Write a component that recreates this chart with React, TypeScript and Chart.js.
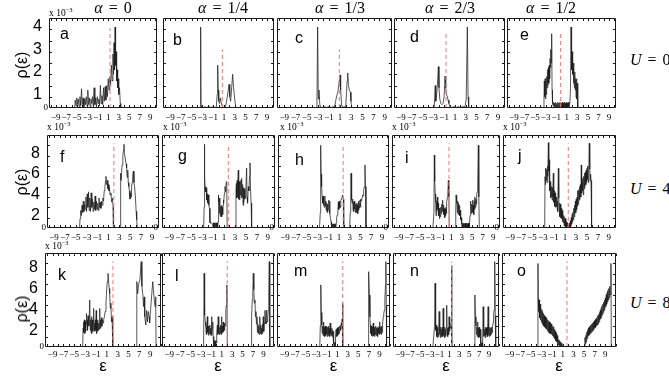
import React, { useEffect, useRef } from 'react';
import { Chart, registerables } from 'chart.js';

Chart.register(...registerables);

// ---------------- data ----------------
const ALPHA_LABELS = ['0', '1/4', '1/3', '2/3', '1/2'];
const U_LABELS = ['0', '4', '8'];
const PANEL_LETTERS = ['a', 'b', 'c', 'd', 'e', 'f', 'g', 'h', 'i', 'j', 'k', 'l', 'm', 'n', 'o'];
const X_TICKS = [-9, -7, -5, -3, -1, 1, 3, 5, 7, 9];
const X_TICK_LABELS = ['\u22129', '\u22127', '\u22125', '\u22123', '\u22121', '1', '3', '5', '7', '9'];
const Y_TICKS_U0 = [1, 2, 3, 4];
const Y_TICKS_U48 = [2, 4, 6, 8];
const Y_MAX = [4, 9, 9];
const X_RANGES = [[-10.3, 10.3], [-10.3, 10.3], [-10.4, 11.0]];
const FERMI_LEVEL = [1.34, 0.71, 0.87, -0.65, -0.16, 2.0, 1.79, 1.8, 0.57, 1.6, 2.14, 2.06, 2.05, 1.44, 1.8];
const FERMI_TOP = [3.55, 2.6, 2.6, 3.4, 3.4, 8.2, 8.1, 8.0, 8.2, 8.2, 8.2, 8.2, 8.2, 8.2, 8.2];

const RHO_A = [[-5.4,0],[-5.3,0.35],[-5.15,0.1],[-5.0,0.45],[-4.85,0.15],[-4.7,0.4],[-4.55,0.05],[-4.4,0.5],[-4.25,0.1],[-4.1,0.85],[-3.95,0.15],[-3.8,0.45],[-3.65,0.05],[-3.5,0.4],[-3.35,0.15],[-3.2,0.5],[-3.05,0.1],[-2.9,0.8],[-2.75,0.15],[-2.6,0.45],[-2.45,0.05],[-2.3,0.4],[-2.15,0.2],[-2.0,0.5],[-1.85,0.1],[-1.7,0.9],[-1.55,0.15],[-1.4,0.45],[-1.25,0.05],[-1.1,0.5],[-0.95,0.2],[-0.8,0.4],[-0.65,0.1],[-0.5,1.0],[-0.35,0.2],[-0.2,0.55],[-0.05,0.15],[0.1,0.9],[0.25,0.3],[0.4,0.95],[0.55,0.35],[0.7,1.0],[0.85,0.5],[1.0,1.3],[1.15,0.8],[1.3,1.4],[1.45,1.0],[1.6,1.9],[1.75,1.2],[1.9,2.4],[2.0,1.5],[2.1,2.9],[2.2,1.7],[2.3,3.6],[2.4,1.9],[2.5,2.5],[2.6,1.2],[2.7,1.7],[2.8,0.9],[2.9,1.3],[3.0,0.6],[3.15,0.9],[3.3,0.2],[3.4,0]];
const RHO_B = [[-3.5,0],[-3.38,0.05],[-3.31,3.6],[-3.24,0.1],[-3.1,0.05],[-2.8,0.02],[-2.5,0.06],[-2.2,0.02],[-1.8,0.06],[-1.4,0.02],[-1.0,0.06],[-0.7,0.02],[-0.4,0.05],[-0.25,0.6],[-0.15,1.9],[-0.05,0.8],[0.05,0.3],[0.2,0.2],[0.35,0.45],[0.5,0.25],[0.65,0.1],[0.9,0.03],[1.3,0.05],[1.5,0.3],[1.75,0.7],[1.95,1.05],[2.1,0.5],[2.25,0.3],[2.45,0.9],[2.63,1.5],[2.8,0.9],[3.0,0.4],[3.2,0.05],[3.3,0]];
const RHO_C = [[-3.4,0],[-3.15,0.05],[-3.02,3.6],[-2.9,0.4],[-2.78,0.8],[-2.65,0.2],[-2.55,0.05],[-2.2,0.02],[-1.8,0.06],[-1.4,0.02],[-1.0,0.06],[-0.6,0.02],[-0.2,0.06],[0.0,0.05],[0.2,0.3],[0.4,0.55],[0.6,0.7],[0.75,1.0],[0.85,1.2],[0.99,1.47],[1.1,0.8],[1.28,0.1],[1.6,0.05],[2.0,0.05],[2.15,0.6],[2.25,1.2],[2.36,1.56],[2.5,1.0],[2.66,0.8],[2.85,0.7],[2.95,0.3],[3.08,0]];
const RHO_D = [[-2.9,0],[-2.81,0.1],[-2.65,1.0],[-2.55,0.3],[-2.38,0.6],[-2.2,1.2],[-2.07,1.84],[-1.95,0.9],[-1.8,0.4],[-1.6,0.2],[-1.4,0.15],[-1.2,0.2],[-1.0,0.5],[-0.83,1.42],[-0.7,0.9],[-0.55,0.6],[-0.4,0.5],[-0.25,0.35],[-0.1,0.2],[0.05,0.06],[0.4,0.02],[0.8,0.06],[1.2,0.02],[1.6,0.06],[2.0,0.02],[2.4,0.06],[2.88,0.05],[3.1,0.4],[3.31,3.6],[3.45,0.5],[3.56,0]];
const RHO_E = [[-3.4,0],[-3.31,0.4],[-3.25,1.2],[-3.18,0.5],[-3.1,1.3],[-3.02,0.4],[-2.95,1.25],[-2.87,0.6],[-2.8,1.4],[-2.72,0.9],[-2.64,1.7],[-2.56,1.0],[-2.48,1.8],[-2.4,1.1],[-2.32,1.9],[-2.24,1.3],[-2.16,2.2],[-2.08,1.8],[-2.0,2.6],[-1.93,2.0],[-1.86,3.3],[-1.78,0.8],[-1.7,0.2],[-1.6,0.1],[-1.5,0.25],[-1.4,0.02],[-1.3,0.22],[-1.2,0.03],[-1.1,0.25],[-1.0,0.02],[-0.9,0.2],[-0.8,0.03],[-0.7,0.25],[-0.6,0.02],[-0.5,0.22],[-0.4,0.03],[-0.3,0.25],[-0.2,0.02],[-0.1,0.2],[0.0,0.03],[0.1,0.25],[0.2,0.02],[0.3,0.22],[0.4,0.03],[0.5,0.25],[0.6,0.02],[0.7,0.2],[0.8,0.03],[0.9,0.25],[1.0,0.02],[1.1,0.22],[1.2,0.03],[1.3,0.25],[1.4,0.05],[1.5,0.2],[1.6,0.3],[1.7,0.9],[1.8,3.6],[1.87,2.4],[1.95,1.7],[2.03,2.5],[2.11,1.5],[2.19,2.0],[2.27,1.1],[2.35,1.8],[2.43,0.9],[2.51,1.6],[2.59,0.8],[2.67,1.3],[2.75,0.5],[2.83,1.3],[2.91,0.4],[2.99,1.1],[3.05,0.3],[3.1,0]];
const RHO_F = [[-4.3,0],[-4.23,0.9],[-4.1,1.7],[-3.98,1.2],[-3.86,2.2],[-3.74,1.5],[-3.62,2.6],[-3.5,1.6],[-3.38,2.3],[-3.26,1.8],[-3.14,3.0],[-3.02,1.6],[-2.9,3.3],[-2.78,2.0],[-2.66,3.5],[-2.54,1.7],[-2.42,2.9],[-2.3,1.6],[-2.18,3.4],[-2.06,2.0],[-1.94,2.8],[-1.82,1.6],[-1.7,2.5],[-1.58,1.8],[-1.46,3.1],[-1.34,1.7],[-1.22,2.6],[-1.1,1.8],[-0.98,2.4],[-0.86,1.7],[-0.74,2.9],[-0.62,2.0],[-0.5,2.5],[-0.38,1.9],[-0.26,2.6],[-0.14,2.2],[-0.02,2.9],[0.1,2.6],[0.22,3.6],[0.34,3.9],[0.46,4.6],[0.55,5.0],[0.65,4.2],[0.78,4.6],[0.9,3.8],[1.0,4.2],[1.1,3.6],[1.2,3.9],[1.3,3.2],[1.45,3.4],[1.6,2.5],[1.75,2.9],[1.85,2.0],[1.92,0],[3.2,0],[3.25,5.3],[3.35,4.6],[3.5,6.1],[3.65,7.0],[3.78,7.6],[3.86,8.1],[3.95,7.2],[4.1,6.7],[4.25,6.2],[4.35,5.8],[4.45,4.9],[4.55,5.6],[4.65,4.4],[4.75,4.0],[4.85,3.6],[4.96,2.8],[5.05,3.4],[5.15,3.0],[5.25,3.9],[5.35,4.4],[5.45,5.0],[5.58,5.5],[5.7,4.4],[5.8,4.0],[5.95,3.1],[6.1,1.6],[6.2,0.8],[6.31,0]];
const RHO_G = [[-2.7,0],[-2.62,2.0],[-2.58,8.1],[-2.5,5.0],[-2.46,4.0],[-2.35,3.5],[-2.25,3.9],[-2.15,2.7],[-2.05,3.3],[-1.95,2.4],[-1.85,3.2],[-1.75,2.2],[-1.65,1.9],[-1.55,0.5],[-1.4,0.45],[-1.25,0.5],[-1.1,0.4],[-1.0,0.1],[-0.93,0.5],[-0.86,0.05],[-0.79,0.5],[-0.72,0.05],[-0.65,0.5],[-0.58,0.05],[-0.51,0.5],[-0.44,0.05],[-0.37,0.5],[-0.3,0.05],[-0.23,0.5],[-0.16,0.1],[-0.08,0.6],[-0.03,3.2],[0.05,2.5],[0.12,2.9],[0.2,1.4],[0.27,2.2],[0.34,1.1],[0.41,2.1],[0.48,1.2],[0.55,2.2],[0.62,1.1],[0.69,2.0],[0.76,1.3],[0.83,2.2],[0.88,2.7],[0.98,2.4],[1.08,3.4],[1.18,4.0],[1.3,3.5],[1.4,4.4],[1.5,4.5],[1.58,0],[3.15,0],[3.19,3.7],[3.26,4.3],[3.33,2.9],[3.4,4.6],[3.47,3.0],[3.54,4.2],[3.61,5.6],[3.68,2.8],[3.75,4.5],[3.82,2.7],[3.9,4.4],[3.98,3.2],[4.06,4.6],[4.14,2.9],[4.22,4.8],[4.3,3.0],[4.4,4.2],[4.48,2.2],[4.55,3.9],[4.62,2.4],[4.7,3.8],[4.8,2.8],[4.9,3.0],[5.0,4.0],[5.13,5.8],[5.2,3.0],[5.3,2.4],[5.43,4.0],[5.55,3.6],[5.65,5.0],[5.74,6.3],[5.85,3.5],[5.95,2.4],[6.04,0]];
const RHO_H = [[-2.6,0],[-2.45,1.5],[-2.38,8.0],[-2.3,5.2],[-2.2,4.0],[-2.1,3.0],[-2.0,2.4],[-1.93,3.1],[-1.86,2.2],[-1.79,2.9],[-1.72,2.0],[-1.65,2.8],[-1.58,3.1],[-1.5,2.1],[-1.42,2.6],[-1.35,1.7],[-1.27,2.4],[-1.2,1.5],[-1.12,2.3],[-1.04,1.6],[-0.96,1.9],[-0.88,2.7],[-0.8,1.8],[-0.72,2.6],[-0.65,1.4],[-0.56,1.0],[-0.46,0.6],[-0.4,0.1],[-0.33,0.4],[-0.26,0.05],[-0.19,0.4],[-0.12,0.05],[-0.05,0.4],[0.02,0.05],[0.09,0.4],[0.16,0.05],[0.23,0.4],[0.3,0.05],[0.37,0.4],[0.44,0.1],[0.52,0.5],[0.59,1.0],[0.7,1.25],[0.8,1.6],[0.9,2.5],[0.97,1.8],[1.04,2.6],[1.11,1.9],[1.18,2.4],[1.25,2.0],[1.35,2.7],[1.45,2.8],[1.55,2.9],[1.7,3.2],[1.82,2.8],[1.9,0],[3.0,0],[3.1,1.5],[3.2,3.0],[3.25,5.3],[3.33,3.5],[3.4,2.7],[3.48,2.4],[3.56,2.8],[3.63,1.7],[3.7,2.5],[3.77,1.6],[3.84,2.6],[3.91,1.8],[3.99,2.5],[4.06,1.5],[4.13,2.3],[4.2,1.6],[4.28,2.4],[4.35,1.5],[4.42,2.2],[4.5,1.4],[4.57,2.4],[4.64,1.7],[4.72,2.6],[4.8,1.9],[4.92,2.7],[5.0,2.0],[5.1,2.8],[5.2,2.6],[5.3,3.0],[5.41,3.2],[5.5,3.1],[5.6,3.7],[5.72,4.0],[5.84,6.1],[5.94,4.0],[6.03,0]];
const RHO_I = [[-2.5,0],[-2.3,1.5],[-2.23,7.06],[-2.15,4.5],[-2.05,3.3],[-1.97,2.5],[-1.9,1.2],[-1.82,2.6],[-1.74,1.6],[-1.65,3.0],[-1.57,1.8],[-1.49,2.4],[-1.41,1.2],[-1.33,1.9],[-1.25,0.9],[-1.17,1.7],[-1.09,1.1],[-1.01,2.0],[-0.93,1.4],[-0.83,2.3],[-0.74,1.6],[-0.64,2.7],[-0.56,1.7],[-0.48,2.2],[-0.4,1.3],[-0.32,1.9],[-0.24,1.0],[-0.16,1.8],[-0.08,1.2],[0.0,2.0],[0.08,1.4],[0.16,2.5],[0.25,2.9],[0.35,3.3],[0.45,4.6],[0.55,3.0],[0.62,0],[1.8,0],[1.86,1.8],[1.92,3.2],[2.0,2.4],[2.08,2.9],[2.16,1.5],[2.24,2.6],[2.32,1.3],[2.4,2.4],[2.48,1.4],[2.56,2.2],[2.64,1.2],[2.72,1.7],[2.8,0.8],[2.9,1.0],[2.99,0.4],[3.06,0.05],[3.13,0.45],[3.2,0.05],[3.27,0.45],[3.34,0.05],[3.41,0.45],[3.48,0.05],[3.55,0.45],[3.62,0.05],[3.69,0.45],[3.76,0.05],[3.83,0.45],[3.9,0.05],[3.97,0.45],[4.04,0.05],[4.11,0.45],[4.18,0.05],[4.25,0.45],[4.32,0.05],[4.39,0.45],[4.46,0.1],[4.58,1.2],[4.66,1.6],[4.74,2.6],[4.82,1.4],[4.9,2.3],[4.98,1.5],[5.06,2.7],[5.14,1.6],[5.22,2.2],[5.3,1.3],[5.38,2.6],[5.46,1.8],[5.53,3.0],[5.62,2.0],[5.7,2.8],[5.78,2.3],[5.85,3.2],[5.95,3.5],[6.05,4.3],[6.17,8.0],[6.26,3.0],[6.36,0]];
const RHO_J = [[-2.7,0],[-2.64,4.97],[-2.56,4.2],[-2.5,5.8],[-2.42,4.6],[-2.34,5.7],[-2.26,4.4],[-2.18,6.0],[-2.1,5.0],[-2.03,8.26],[-1.95,5.5],[-1.88,6.6],[-1.8,3.6],[-1.73,4.5],[-1.65,2.9],[-1.57,4.4],[-1.5,3.0],[-1.43,4.0],[-1.35,2.7],[-1.28,3.9],[-1.2,3.0],[-1.12,5.3],[-1.05,2.5],[-0.97,3.6],[-0.89,2.1],[-0.82,3.4],[-0.74,2.0],[-0.67,3.2],[-0.59,2.1],[-0.52,3.0],[-0.44,1.9],[-0.37,2.6],[-0.29,1.6],[-0.21,5.77],[-0.13,2.9],[-0.05,1.7],[0.02,2.4],[0.09,1.1],[0.17,2.3],[0.25,1.0],[0.33,1.9],[0.4,0.9],[0.48,1.7],[0.55,0.6],[0.63,1.4],[0.7,0.5],[0.78,1.2],[0.85,0.2],[0.93,1.0],[1.0,0.2],[1.08,0.9],[1.16,0.1],[1.24,0.6],[1.31,0.1],[1.4,0.5],[1.5,0.2],[1.58,0.0],[1.66,0.3],[1.74,0.05],[1.82,0.5],[1.91,0.1],[1.99,0.7],[2.07,0.2],[2.15,1.0],[2.22,0.4],[2.3,1.3],[2.37,0.6],[2.45,1.5],[2.52,0.8],[2.6,1.9],[2.67,1.1],[2.75,2.2],[2.82,1.4],[2.9,2.6],[2.97,1.5],[3.05,2.8],[3.13,1.8],[3.2,3.0],[3.28,2.1],[3.35,3.6],[3.43,2.3],[3.5,3.7],[3.58,2.7],[3.65,4.0],[3.73,2.8],[3.81,4.2],[3.89,3.0],[3.97,6.1],[4.04,3.4],[4.12,4.5],[4.2,3.6],[4.27,4.8],[4.34,3.2],[4.42,5.0],[4.5,3.8],[4.57,5.3],[4.64,4.0],[4.72,5.4],[4.8,4.2],[4.87,5.6],[4.95,4.5],[5.03,5.8],[5.1,4.7],[5.18,6.0],[5.25,4.4],[5.34,5.8],[5.43,8.2],[5.52,5.7],[5.6,4.6],[5.68,5.2],[5.76,4.0],[5.82,4.6],[5.88,0]];
const RHO_K = [[-3.45,0],[-3.37,1.8],[-3.3,2.4],[-3.22,1.4],[-3.14,2.6],[-3.06,1.3],[-2.98,2.5],[-2.9,1.5],[-2.82,2.2],[-2.75,3.2],[-2.65,2.6],[-2.55,1.6],[-2.45,3.0],[-2.3,2.0],[-2.14,4.5],[-2.05,1.6],[-1.97,2.6],[-1.9,1.4],[-1.82,2.9],[-1.74,1.3],[-1.66,2.6],[-1.58,1.5],[-1.5,2.4],[-1.43,3.7],[-1.35,1.6],[-1.27,2.3],[-1.2,1.5],[-1.12,2.6],[-1.04,1.6],[-0.96,3.5],[-0.88,1.3],[-0.8,2.4],[-0.72,1.5],[-0.64,2.6],[-0.56,1.6],[-0.48,2.3],[-0.4,1.7],[-0.31,3.7],[-0.23,1.8],[-0.15,2.6],[-0.07,1.9],[0.02,2.8],[0.1,2.0],[0.18,2.6],[0.3,2.3],[0.42,2.6],[0.55,2.9],[0.7,3.4],[0.85,4.2],[0.98,5.5],[1.1,6.3],[1.22,7.05],[1.35,6.1],[1.45,5.6],[1.53,5.1],[1.65,3.7],[1.75,4.2],[1.87,2.4],[1.98,2.9],[2.06,2.2],[2.14,0],[6.5,0],[6.54,6.26],[6.7,5.1],[6.85,6.0],[6.91,6.1],[7.1,6.4],[7.34,8.17],[7.48,5.8],[7.64,5.1],[7.8,3.86],[7.9,4.8],[8.0,2.9],[8.2,2.1],[8.35,3.5],[8.5,2.4],[8.65,3.4],[8.8,2.9],[8.9,2.3],[9.1,3.7],[9.3,5.1],[9.48,6.26],[9.6,5.5],[9.75,4.5],[9.91,3.86],[10.02,4.8],[10.09,0]];
const RHO_L = [[-2.45,0],[-2.35,7.05],[-2.28,4.2],[-2.22,3.06],[-2.12,2.4],[-2.04,2.0],[-1.97,1.3],[-1.9,2.0],[-1.82,1.2],[-1.74,2.9],[-1.66,1.4],[-1.58,2.0],[-1.5,1.1],[-1.42,1.9],[-1.34,1.3],[-1.26,2.1],[-1.18,1.2],[-1.1,1.8],[-1.02,1.1],[-0.94,2.9],[-0.86,1.2],[-0.78,1.8],[-0.7,2.4],[-0.62,1.0],[-0.55,0.6],[-0.48,0.05],[-0.42,0.6],[-0.36,0.05],[-0.3,0.6],[-0.24,0.05],[-0.18,0.6],[-0.12,0.05],[-0.06,0.6],[0.02,0.4],[0.1,1.4],[0.18,2.1],[0.26,1.2],[0.33,2.9],[0.41,1.3],[0.49,2.0],[0.57,1.2],[0.65,1.9],[0.73,1.3],[0.81,2.1],[0.89,1.2],[0.97,2.9],[1.05,1.3],[1.13,2.0],[1.21,1.4],[1.29,2.4],[1.37,1.5],[1.45,2.1],[1.53,1.6],[1.61,2.3],[1.7,2.0],[1.8,3.5],[1.9,4.0],[2.0,5.94],[2.08,0],[6.65,0],[6.72,2.9],[6.85,4.5],[6.95,5.2],[7.04,7.05],[7.15,5.5],[7.25,4.2],[7.36,4.5],[7.46,2.9],[7.55,3.4],[7.65,2.2],[7.75,2.9],[7.83,1.4],[7.91,2.2],[8.0,1.3],[8.08,2.0],[8.16,1.2],[8.24,1.9],[8.32,2.9],[8.4,1.3],[8.48,2.1],[8.56,1.2],[8.64,1.8],[8.72,1.3],[8.8,2.2],[8.88,1.4],[8.95,2.9],[9.05,1.5],[9.15,2.3],[9.27,3.5],[9.37,2.5],[9.47,2.2],[9.59,3.54],[9.7,2.4],[9.8,2.8],[9.91,3.54],[10.0,4.8],[10.1,8.17],[10.2,0]];
const RHO_M = [[-2.3,0],[-2.2,2.0],[-2.1,5.94],[-2.0,3.3],[-1.91,2.1],[-1.83,1.3],[-1.76,2.0],[-1.68,1.1],[-1.6,2.4],[-1.52,1.2],[-1.44,1.9],[-1.36,1.0],[-1.28,2.0],[-1.2,1.1],[-1.12,1.8],[-1.04,1.2],[-0.97,2.0],[-0.89,1.0],[-0.81,1.9],[-0.73,1.1],[-0.65,2.0],[-0.57,1.2],[-0.49,1.8],[-0.41,1.0],[-0.34,2.3],[-0.26,1.2],[-0.18,1.9],[-0.1,1.1],[-0.02,1.8],[0.06,1.0],[0.14,1.6],[0.22,0.9],[0.29,1.5],[0.36,0.3],[0.42,0.05],[0.48,0.4],[0.54,0.05],[0.6,0.5],[0.66,0.1],[0.72,1.2],[0.8,1.7],[0.92,1.0],[1.0,1.8],[1.08,1.1],[1.16,1.9],[1.23,1.2],[1.31,1.8],[1.39,1.3],[1.47,2.0],[1.54,1.9],[1.62,2.1],[1.7,1.6],[1.78,2.3],[1.86,2.1],[1.95,2.7],[2.03,4.18],[2.08,0],[6.85,0],[6.89,4.5],[6.95,6.0],[7.02,7.21],[7.1,4.98],[7.2,2.9],[7.28,2.1],[7.36,1.3],[7.44,2.0],[7.52,1.1],[7.6,1.9],[7.68,1.0],[7.76,1.8],[7.83,2.3],[7.91,1.1],[7.99,1.9],[8.07,1.0],[8.15,1.8],[8.23,1.2],[8.31,2.0],[8.39,1.1],[8.46,1.8],[8.54,1.2],[8.62,1.9],[8.7,1.0],[8.78,1.8],[8.86,1.3],[8.94,2.0],[9.02,1.2],[9.09,2.4],[9.17,1.3],[9.25,1.9],[9.33,1.2],[9.41,2.0],[9.5,1.4],[9.6,2.2],[9.72,2.9],[9.82,3.2],[9.92,3.5],[10.03,4.5],[10.15,6.0],[10.22,8.17],[10.3,4.0],[10.35,0]];
const RHO_N = [[-2.35,0],[-2.0,2.0],[-1.91,6.1],[-1.83,2.8],[-1.75,1.6],[-1.67,2.1],[-1.57,1.0],[-1.49,1.9],[-1.41,0.9],[-1.33,1.7],[-1.25,1.0],[-1.17,1.9],[-1.08,3.4],[-1.0,1.2],[-0.92,1.8],[-0.84,0.9],[-0.76,1.9],[-0.68,1.0],[-0.6,1.7],[-0.52,1.1],[-0.44,1.9],[-0.36,1.0],[-0.28,3.7],[-0.2,1.1],[-0.12,1.8],[-0.04,0.9],[0.04,1.9],[0.12,1.0],[0.2,1.7],[0.28,1.1],[0.36,1.9],[0.44,4.0],[0.52,1.2],[0.6,1.8],[0.68,1.0],[0.76,1.9],[0.84,1.2],[0.92,2.9],[1.0,1.5],[1.1,2.1],[1.2,1.8],[1.3,2.3],[1.4,2.0],[1.44,7.8],[1.5,0],[6.05,0],[6.13,4.98],[6.25,2.9],[6.35,2.0],[6.46,1.2],[6.54,1.9],[6.62,1.0],[6.7,2.4],[6.78,1.1],[6.86,1.8],[6.94,0.9],[7.02,1.9],[7.1,1.0],[7.2,1.7],[7.3,0.3],[7.36,0.05],[7.42,0.4],[7.48,0.05],[7.54,0.4],[7.6,0.05],[7.66,0.4],[7.72,0.1],[7.8,3.86],[7.88,1.0],[7.96,1.9],[8.04,1.1],[8.12,1.7],[8.2,0.9],[8.28,1.9],[8.36,1.0],[8.44,1.8],[8.52,1.2],[8.6,1.9],[8.68,1.0],[8.8,3.86],[8.88,1.1],[8.96,1.8],[9.04,1.0],[9.14,1.9],[9.22,1.1],[9.3,1.8],[9.4,1.2],[9.5,1.9],[9.6,1.4],[9.7,2.0],[9.81,2.3],[9.9,2.8],[10.0,3.54],[10.14,8.17],[10.24,3.0],[10.34,0]];
const RHO_O = [[-3.75,0],[-3.65,8.0],[-3.58,4.6],[-3.5,3.4],[-3.42,4.5],[-3.34,2.8],[-3.26,4.1],[-3.18,2.6],[-3.1,3.8],[-3.02,2.4],[-2.94,3.6],[-2.86,2.2],[-2.78,3.4],[-2.7,2.1],[-2.62,3.2],[-2.54,2.0],[-2.46,3.0],[-2.38,1.9],[-2.3,2.9],[-2.22,1.8],[-2.14,2.8],[-2.06,1.7],[-1.98,2.7],[-1.9,1.6],[-1.82,2.6],[-1.74,1.5],[-1.66,2.5],[-1.58,1.4],[-1.5,2.4],[-1.42,1.3],[-1.34,2.3],[-1.26,1.3],[-1.18,2.2],[-1.1,1.2],[-1.02,2.1],[-0.94,1.1],[-0.86,2.0],[-0.78,1.0],[-0.7,1.9],[-0.62,0.9],[-0.54,1.7],[-0.46,0.8],[-0.38,1.5],[-0.3,0.6],[-0.22,1.3],[-0.14,0.5],[-0.06,1.1],[0.02,0.3],[0.1,0.9],[0.18,0.2],[0.26,0.7],[0.34,0.1],[0.42,0.6],[0.5,0.05],[0.58,0.5],[0.66,0.05],[0.74,0.35],[0.86,0],[5.1,0],[5.17,0.9],[5.25,0.3],[5.33,1.1],[5.41,0.5],[5.49,1.4],[5.57,0.8],[5.65,1.6],[5.73,1.0],[5.81,1.8],[5.89,1.1],[5.97,1.9],[6.05,1.2],[6.13,2.0],[6.21,1.3],[6.29,2.1],[6.37,1.4],[6.45,2.2],[6.53,1.5],[6.61,2.3],[6.69,1.6],[6.77,2.4],[6.85,1.7],[6.93,2.5],[7.01,1.8],[7.09,2.6],[7.17,1.9],[7.25,2.7],[7.33,2.0],[7.41,2.8],[7.49,2.1],[7.57,3.0],[7.65,2.2],[7.73,3.1],[7.81,2.4],[7.89,3.3],[7.97,2.6],[8.05,3.5],[8.13,2.7],[8.21,3.7],[8.29,2.9],[8.37,3.9],[8.45,3.1],[8.53,4.1],[8.61,3.3],[8.69,4.3],[8.77,3.5],[8.85,4.5],[8.93,3.7],[9.01,4.7],[9.09,3.9],[9.17,5.0],[9.25,4.1],[9.33,5.2],[9.41,4.3],[9.49,5.4],[9.57,4.5],[9.65,5.6],[9.73,4.7],[9.81,5.8],[9.9,5.0],[10.05,8.0],[10.12,0]];

const RHO_ALL = [RHO_A, RHO_B, RHO_C, RHO_D, RHO_E, RHO_F, RHO_G, RHO_H, RHO_I, RHO_J, RHO_K, RHO_L, RHO_M, RHO_N, RHO_O];

// ---------------- layout ----------------
const ROW_TOP = [18, 135, 253];
const ROW_H = [90, 93, 94];
const FRAME_X = [
  [[49, 108], [163, 111], [277, 115], [394, 111], [507, 109]],
  [[47, 112], [162, 113], [278, 111], [392, 108], [503, 113]],
  [[45, 116], [162, 112], [277, 113], [393, 106], [502, 114]],
];
const BIG_LABEL_OFFSET = [9, 8, 4];
const SERIF = '"Liberation Serif", "DejaVu Serif", serif';
const SANS = '"Liberation Sans", Arial, sans-serif';

const framePlugin = {
  id: 'frame',
  afterDatasetsDraw(chart: any) {
    const { ctx, chartArea: a, scales } = chart;
    const xs = scales.x;
    const ys = scales.y;
    const L = Math.round(a.left) + 0.5;
    const R = Math.round(a.right) - 0.5;
    const T = Math.round(a.top) + 0.5;
    const B = Math.round(a.bottom) - 0.5;
    ctx.save();
    ctx.strokeStyle = '#1a1a1a';
    ctx.lineWidth = 1;
    ctx.beginPath();
    ctx.rect(L, T, R - L, B - T);
    for (let v = Math.ceil(xs.min); v <= Math.floor(xs.max); v++) {
      const px = Math.round(xs.getPixelForValue(v)) + 0.5;
      ctx.moveTo(px, T);
      ctx.lineTo(px, T + 2.5);
      ctx.moveTo(px, B);
      ctx.lineTo(px, B - 2.5);
    }
    const step = ys.max <= 4 ? 0.5 : 1;
    for (let v = step; v < ys.max; v += step) {
      const py = Math.round(ys.getPixelForValue(v)) + 0.5;
      ctx.moveTo(L, py);
      ctx.lineTo(L + 2.5, py);
      ctx.moveTo(R, py);
      ctx.lineTo(R - 2.5, py);
    }
    ctx.stroke();
    ctx.restore();
  },
};

function zeroPad(s: any) {
  s.paddingTop = 0;
  s.paddingBottom = 0;
  s.paddingLeft = 0;
  s.paddingRight = 0;
}

function Panel({ idx }: { idx: number }) {
  const row = Math.floor(idx / 5);
  const col = idx % 5;
  const [fl, fw] = FRAME_X[row][col];
  const ft = ROW_TOP[row];
  const fh = ROW_H[row];
  const padL = col === 0 ? fl : 12;
  const padT = 3;
  const padR = 3;
  const padB = row === 2 ? 30 : 14;
  const W = padL + fw + padR;
  const H = padT + fh + padB;
  const ref = useRef<HTMLCanvasElement>(null);

  useEffect(() => {
    const innerW = col === 0 ? 7 : 12;
    const showZero = col === 0 || row === 1;
    const showBig = col === 0;
    const ymax = Y_MAX[row];
    const yTicks = row === 0 ? Y_TICKS_U0 : Y_TICKS_U48;
    const [xmin, xmax] = X_RANGES[row];
    const ef = FERMI_LEVEL[idx];
    const chart = new Chart(ref.current as HTMLCanvasElement, {
      type: 'line',
      data: {
        datasets: [
          {
            data: [{ x: ef, y: 0 }, { x: ef, y: FERMI_TOP[idx] }],
            borderColor: '#f07878',
            borderWidth: 1,
            borderDash: [4, 3],
            pointRadius: 0,
            fill: false,
          },
          {
            data: RHO_ALL[idx].map(([x, y]) => ({ x, y })),
            borderColor: '#1e1e1e',
            borderWidth: 0.75,
            pointRadius: 0,
            tension: 0,
            fill: false,
          },
        ],
      },
      options: {
        responsive: false,
        maintainAspectRatio: false,
        animation: false,
        devicePixelRatio: 1,
        events: [],
        layout: { padding: { top: padT, right: padR, left: 0, bottom: 0 } },
        plugins: { legend: { display: false }, tooltip: { enabled: false } },
        scales: {
          x: {
            type: 'linear',
            min: xmin,
            max: xmax,
            position: 'bottom',
            afterBuildTicks: (s: any) => {
              s.ticks = X_TICKS.map((v) => ({ value: v }));
            },
            afterFit: (s: any) => {
              s.height = padB;
              zeroPad(s);
            },
            grid: { display: false, drawTicks: false },
            border: { display: false },
            ticks: {
              autoSkip: false,
              maxRotation: 0,
              minRotation: 0,
              padding: row === 2 ? 2 : 4,
              color: '#000',
              font: { family: SERIF, size: 9 },
              callback: (v: any) => {
                const i = X_TICKS.indexOf(Number(v));
                return i >= 0 ? X_TICK_LABELS[i] : '';
              },
            },
            title: {
              display: row === 2,
              text: '\u03b5',
              color: '#000',
              font: { family: SANS, size: 17 },
              padding: { top: 0, bottom: 0 },
            },
          },
          y: {
            type: 'linear',
            min: 0,
            max: ymax,
            position: 'left',
            weight: 0,
            afterBuildTicks: (s: any) => {
              s.ticks = [{ value: 0 }];
            },
            afterFit: (s: any) => {
              s.width = innerW;
              zeroPad(s);
            },
            grid: { display: false, drawTicks: false },
            border: { display: false },
            ticks: {
              display: showZero,
              padding: col === 0 ? 1 : 4,
              color: '#000',
              font: { family: SERIF, size: 9 },
              callback: () => '0',
            },
          },
          yb: {
            type: 'linear',
            min: 0,
            max: ymax,
            position: 'left',
            weight: 1,
            afterBuildTicks: (s: any) => {
              s.ticks = yTicks.map((v) => ({ value: v }));
            },
            afterFit: (s: any) => {
              s.width = padL - innerW;
              zeroPad(s);
            },
            grid: { display: false, drawTicks: false },
            border: { display: false },
            ticks: {
              display: showBig,
              padding: 0,
              labelOffset: BIG_LABEL_OFFSET[row],
              color: '#000',
              font: { family: SANS, size: 16 },
              callback: (v: any) => String(v),
            },
          },
        },
      } as any,
      plugins: [framePlugin],
    } as any);
    return () => chart.destroy();
  }, []);

  return (
    <canvas
      ref={ref}
      width={W}
      height={H}
      style={{ position: 'absolute', left: fl - padL, top: ft - padT, width: W, height: H }}
    />
  );
}

function Txt({ x, base, size, family, children, center, italic }: any) {
  return (
    <div
      style={{
        position: 'absolute',
        left: x,
        top: base - 0.84 * size,
        fontSize: size,
        lineHeight: `${size}px`,
        fontFamily: family,
        fontStyle: italic ? 'italic' : 'normal',
        whiteSpace: 'nowrap',
        color: '#000',
        transform: center ? 'translateX(-50%)' : undefined,
      }}
    >
      {children}
    </div>
  );
}

const TITLE_CX = [113, 223, 340, 450, 551];
const U_BASE = [65, 194, 308];
const LETTER_POS = [
  [60, 39], [173, 45], [295, 43], [410, 42], [520, 40],
  [60, 162], [178, 161], [295, 165], [405, 163], [518, 161],
  [58, 280], [175, 281], [294, 276], [410, 276], [517, 276],
];
const RHO_LABEL_CY = [65, 182, 309];
const EXP_POS = [[49, 17], [47, 131], [163, 131], [280, 131], [392, 131], [503, 131], [45, 250]];

function Exp({ x, base }: any) {
  return (
    <Txt x={x} base={base} size={9.5} family={SERIF}>
      x 10
      <span style={{ fontSize: 6.5, position: 'relative', top: -4 }}>{'\u22123'}</span>
    </Txt>
  );
}

export default function App() {
  return (
    <div
      style={{
        position: 'absolute',
        left: 0,
        top: 0,
        width: 669,
        height: 385,
        overflow: 'hidden',
        background: '#fff',
      }}
    >
      {RHO_ALL.map((_, i) => (
        <Panel key={i} idx={i} />
      ))}
      {ALPHA_LABELS.map((a, i) => (
        <Txt key={'t' + i} x={TITLE_CX[i]} base={13} size={16} family={SERIF} center>
          <span style={{ fontStyle: 'italic' }}>{'\u03b1'}</span>
          <span style={{ wordSpacing: 2 }}>{' = ' + a}</span>
        </Txt>
      ))}
      {U_LABELS.map((u, i) => (
        <Txt key={'u' + i} x={630} base={U_BASE[i]} size={16} family={SERIF}>
          <span style={{ fontStyle: 'italic' }}>U</span>
          <span style={{ wordSpacing: 2 }}>{' = ' + u}</span>
        </Txt>
      ))}
      {PANEL_LETTERS.map((l, i) => (
        <Txt key={'l' + i} x={LETTER_POS[i][0]} base={LETTER_POS[i][1]} size={16} family={SANS}>
          {l}
        </Txt>
      ))}
      {RHO_LABEL_CY.map((cy, i) => (
        <div
          key={'r' + i}
          style={{
            position: 'absolute',
            left: 22,
            top: cy,
            fontFamily: SANS,
            fontSize: 16,
            lineHeight: '16px',
            whiteSpace: 'nowrap',
            transform: 'translate(-50%, -50%) rotate(-90deg)',
          }}
        >
          {'\u03c1(\u03b5)'}
        </div>
      ))}
      {EXP_POS.map(([x, b], i) => (
        <Exp key={'e' + i} x={x} base={b} />
      ))}
    </div>
  );
}
